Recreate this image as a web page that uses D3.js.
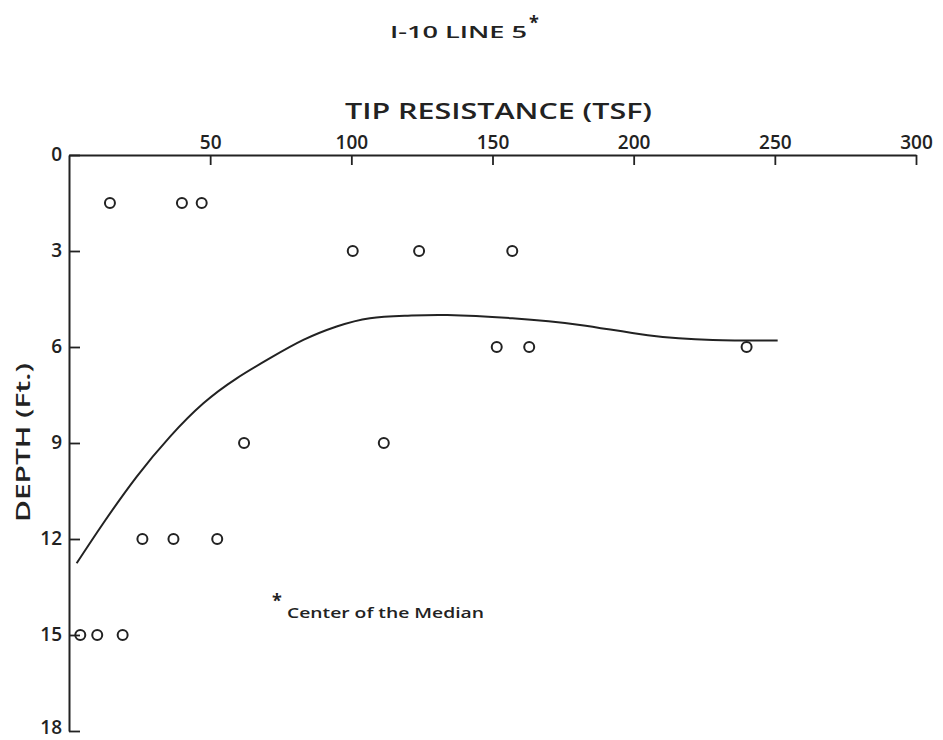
<!DOCTYPE html>
<html>
<head>
<meta charset="utf-8">
<script src="https://cdn.jsdelivr.net/npm/d3@7"></script>
<style>
  body { margin: 0; background: #fff; }
  text { font-family: "Open Sans", "DejaVu Sans", sans-serif; font-weight: 600; fill: #222; }
</style>
</head>
<body>
<div id="chart"></div>
<script>
// Chart dimensions
const width = 943;
const height = 740;

// Data
const xTicks = [50, 100, 150, 200, 250, 300];
const yTicks = [0, 3, 6, 9, 12, 15, 18];
const pointTip = [14.5, 40, 47, 100.5, 124, 157, 151.5, 163, 240, 62, 111.5, 26, 37, 52.5, 4, 10, 19];
const pointDepth = [1.5, 1.5, 1.5, 3, 3, 3, 6, 6, 6, 9, 9, 12, 12, 12, 15, 15, 15];
const curveTip = [2.7, 12.2, 24, 35.8, 47.6, 59.4, 71.2, 83, 94.8, 106.6, 120, 134, 157, 181, 205, 228, 251];
const curveDepth = [12.76, 11.5, 10.05, 8.8, 7.76, 6.98, 6.35, 5.78, 5.36, 5.1, 5.02, 5.0, 5.1, 5.31, 5.63, 5.78, 5.8];

const x = d3.scaleLinear().domain([0, 300]).range([69, 916]);
const y = d3.scaleLinear().domain([0, 18]).range([155, 731]);

const svg = d3.select("#chart")
  .append("svg")
  .attr("width", width)
  .attr("height", height)
  .attr("viewBox", [0, 0, width, height]);

// Axes
const xAxis = svg.append("g")
  .attr("transform", `translate(0,${y(0)})`)
  .call(d3.axisTop(x)
    .tickValues(xTicks)
    .tickSizeInner(-10)
    .tickSizeOuter(0)
    .tickPadding(6));

const yAxis = svg.append("g")
  .attr("transform", `translate(${x(0)},0)`)
  .call(d3.axisLeft(y)
    .tickValues(yTicks)
    .tickSizeInner(-11)
    .tickSizeOuter(0)
    .tickPadding(7));

[xAxis, yAxis].forEach(axis => {
  axis.select(".domain").attr("stroke", "#222").attr("stroke-width", 2);
  axis.selectAll(".tick line").attr("stroke", "#222").attr("stroke-width", 1.8);
  axis.selectAll(".tick text")
    .attr("fill", "#222")
    .style("font-family", "'Open Sans', 'DejaVu Sans', sans-serif")
    .style("font-weight", 600)
    .style("font-size", "19px");
});
yAxis.selectAll(".tick text").attr("dy", d => d === 18 ? "0.15em" : "0.3em");

// Median curve
const line = d3.line()
  .curve(d3.curveNatural)
  .x(d => x(d[0]))
  .y(d => y(d[1]));

svg.append("path")
  .datum(curveTip.map((t, i) => [t, curveDepth[i]]))
  .attr("fill", "none")
  .attr("stroke", "#222")
  .attr("stroke-width", 2)
  .attr("d", line);

// Data points
svg.append("g")
  .selectAll("circle")
  .data(pointTip.map((t, i) => [t, pointDepth[i]]))
  .join("circle")
  .attr("cx", d => x(d[0]))
  .attr("cy", d => y(d[1]))
  .attr("r", 5)
  .attr("fill", "none")
  .attr("stroke", "#222")
  .attr("stroke-width", 2);

// Titles and labels
svg.append("text")
  .attr("x", 390)
  .attr("y", 38)
  .attr("textLength", 137)
  .attr("lengthAdjust", "spacingAndGlyphs")
  .style("font-size", "16px")
  .text("I-10 LINE 5");

svg.append("text")
  .attr("x", 529)
  .attr("y", 29)
  .style("font-size", "18px")
  .style("font-weight", "bold")
  .text("*");

svg.append("text")
  .attr("x", 345)
  .attr("y", 119)
  .attr("textLength", 307)
  .attr("lengthAdjust", "spacingAndGlyphs")
  .style("font-size", "21px")
  .text("TIP RESISTANCE (TSF)");

svg.append("text")
  .attr("transform", "rotate(-90)")
  .attr("x", -522)
  .attr("y", 30)
  .attr("textLength", 159)
  .attr("lengthAdjust", "spacingAndGlyphs")
  .style("font-size", "20px")
  .text("DEPTH (Ft.)");

svg.append("text")
  .attr("x", 272)
  .attr("y", 607)
  .style("font-size", "18px")
  .style("font-weight", "bold")
  .text("*");

svg.append("text")
  .attr("x", 287)
  .attr("y", 618)
  .attr("textLength", 197)
  .attr("lengthAdjust", "spacingAndGlyphs")
  .style("font-size", "15px")
  .text("Center of the Median");
</script>
</body>
</html>
